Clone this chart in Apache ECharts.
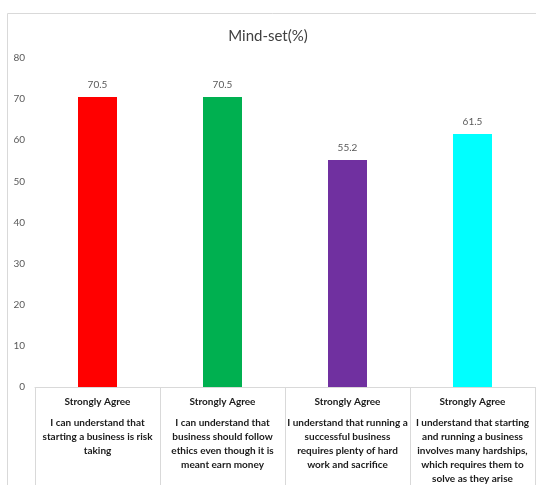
<!DOCTYPE html>
<html>
<head>
<meta charset="utf-8">
<script src="https://cdn.jsdelivr.net/npm/echarts@6/dist/echarts.min.js"></script>
<style>
html,body{margin:0;padding:0;background:#fff;}
#chart{width:536px;height:485px;}
</style>
</head>
<body>
<div id="chart"></div>
<script>
var titleText = "Mind-set(%)";
var levels = ["Strongly Agree", "Strongly Agree", "Strongly Agree", "Strongly Agree"];
var statements = [
  "I can understand that\nstarting a business is risk\ntaking",
  "I can understand that\nbusiness should follow\nethics even though it is\nmeant earn money",
  "I understand that running a\nsuccessful business\nrequires plenty of hard\nwork and sacrifice",
  "I understand that starting\nand running a business\ninvolves many hardships,\nwhich requires them to\nsolve as they arise"
];
var values = [70.5, 70.5, 55.2, 61.5];
var yTicks = [0, 10, 20, 30, 40, 50, 60, 70, 80];

var barColors = ["#ff0000", "#00b050", "#7030a0", "#00ffff"];
var FONT = "Lato, 'Open Sans', sans-serif";

var categories = levels.map(function (l, i) { return l + "|" + i; });

var chart = echarts.init(document.getElementById('chart'), null, {renderer: 'canvas'});
chart.setOption({
  animation: false,
  graphic: [{
    type: 'rect',
    shape: {x: 7.5, y: 13.5, width: 700, height: 700},
    style: {fill: 'none', stroke: '#d9d9d9', lineWidth: 1},
    silent: true, z: -1
  }],
  title: {
    text: titleText,
    left: 'center', top: 24,
    textStyle: {fontFamily: FONT, fontSize: 15, fontWeight: 'normal', color: '#404040'}
  },
  grid: {left: 35, right: 1, top: 58, bottom: 98, containLabel: false},
  xAxis: {
    type: 'category',
    data: categories,
    axisLine: {show: true, lineStyle: {color: '#d9d9d9', width: 1}},
    axisTick: {show: true, alignWithLabel: false, length: 100, lineStyle: {color: '#d9d9d9', width: 1}},
    axisLabel: {
      interval: 0,
      margin: 1,
      formatter: function (v, i) {
        return '{a|' + levels[i] + '}\n{b|' + statements[i] + '}';
      },
      rich: {
        a: {fontFamily: FONT, fontSize: 10, fontWeight: 'bold', color: '#1a1a1a', lineHeight: 28, align: 'center'},
        b: {fontFamily: FONT, fontSize: 10, fontWeight: 'bold', color: '#1a1a1a', lineHeight: 14, align: 'center'}
      }
    }
  },
  yAxis: {
    type: 'value',
    min: 0, max: 80, interval: 10,
    axisLine: {show: false},
    axisTick: {show: false},
    splitLine: {show: false},
    axisLabel: {
      margin: 10,
      fontFamily: FONT, fontSize: 10, color: '#595959',
      formatter: function (v) { return yTicks.indexOf(v) >= 0 ? String(v) : ''; }
    }
  },
  series: [{
    type: 'bar',
    barWidth: 39,
    data: values.map(function (v, i) { return {value: v, itemStyle: {color: barColors[i]}}; }),
    label: {
      show: true, position: 'top', distance: 7,
      fontFamily: FONT, fontSize: 10, color: '#595959'
    }
  }]
});
</script>
</body>
</html>
